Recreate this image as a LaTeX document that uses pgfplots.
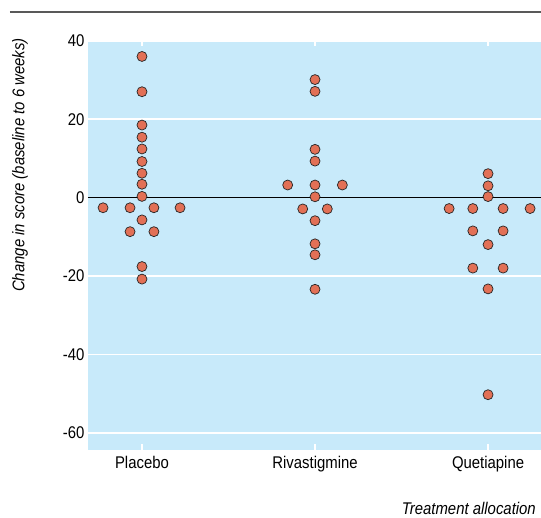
\documentclass[border=0pt]{standalone}
\usepackage{fontspec}
\setmainfont[FakeStretch=0.88]{Liberation Sans}
\usepackage{pgfplots}
\pgfplotsset{compat=1.18}
\definecolor{bgblue}{RGB}{200,234,250}
\definecolor{dotred}{RGB}{226,112,86}

\begin{document}
\begin{tikzpicture}
\begin{axis}[
  scale only axis,
  width=453bp, height=410bp,
  xmin=-0.312, xmax=2.306,
  ymin=-64.4, ymax=40.2,
  font=\fontsize{17}{20}\selectfont,
  /pgf/number format/assume math mode=true,
  axis line style={draw=none},
  axis background/.style={fill=bgblue},
  xtick={0,1,2},
  xticklabels={Placebo, Rivastigmine, Quetiapine},
  ytick={-60,-40,-20,20,40},
  extra y ticks={0},
  extra y tick style={grid style={black, line width=0.9bp},
                      tick style={black, line width=0.9bp}},
  ymajorgrids,
  grid style={white, line width=1.6bp},
  tick align=inside,
  major tick length=6bp,
  xtick style={white, line width=1.4bp},
  ytick style={draw=none},
  xticklabel style={yshift=-3bp},
  ylabel={\itshape Change in score (baseline to 6 weeks)},
  ylabel style={at={([xshift=-68bp]rel axis cs:0,0.695)}, anchor=center},
  xlabel={\itshape Treatment allocation},
  xlabel style={at={([xshift=-5bp,yshift=-58bp]rel axis cs:1,0)}, anchor=east, inner sep=0pt},
  clip=false,
]
% Placebo
\addplot[only marks, mark=*, mark size=5bp,
  mark options={fill=dotred, draw=black!85, line width=0.7bp}] coordinates {
  (0,36) (0,27) (0,18.5) (0,15.4) (0,12.4) (0,9.2) (0,6.2) (0,3.4) (0,0.3)
  (-0.225,-2.6) (-0.069,-2.6) (0.069,-2.6) (0.220,-2.6)
  (0,-5.7) (-0.069,-8.7) (0.069,-8.7)
  (0,-17.6) (0,-20.8)
};
% Rivastigmine
\addplot[only marks, mark=*, mark size=5bp,
  mark options={fill=dotred, draw=black!85, line width=0.7bp}] coordinates {
  (1,30.1) (1,27.1) (1,12.3) (1,9.3)
  (0.842,3.2) (1,3.2) (1.158,3.2) (1,0.2)
  (0.929,-2.9) (1.071,-2.9) (1,-5.9)
  (1,-11.8) (1,-14.6) (1,-23.4)
};
% Quetiapine
\addplot[only marks, mark=*, mark size=5bp,
  mark options={fill=dotred, draw=black!85, line width=0.7bp}] coordinates {
  (2,6.1) (2,3.0) (2,0.25)
  (1.775,-2.8) (1.912,-2.8) (2.087,-2.8) (2.243,-2.8)
  (1.912,-8.5) (2.087,-8.5) (2,-12)
  (1.912,-18) (2.087,-18) (2,-23.3) (2,-50.3)
};
\coordinate (sw) at (rel axis cs:0,0);
\coordinate (ne) at (rel axis cs:1,1);
\end{axis}
\draw[line width=2bp, black!65] ([xshift=10bp]sw |- ne) ++(-88bp,28bp) -- ([yshift=28bp]ne);
\pgfresetboundingbox
\path[use as bounding box] ([xshift=-88bp,yshift=-68bp]sw) rectangle ([yshift=40bp]ne);
\end{tikzpicture}
\end{document}
